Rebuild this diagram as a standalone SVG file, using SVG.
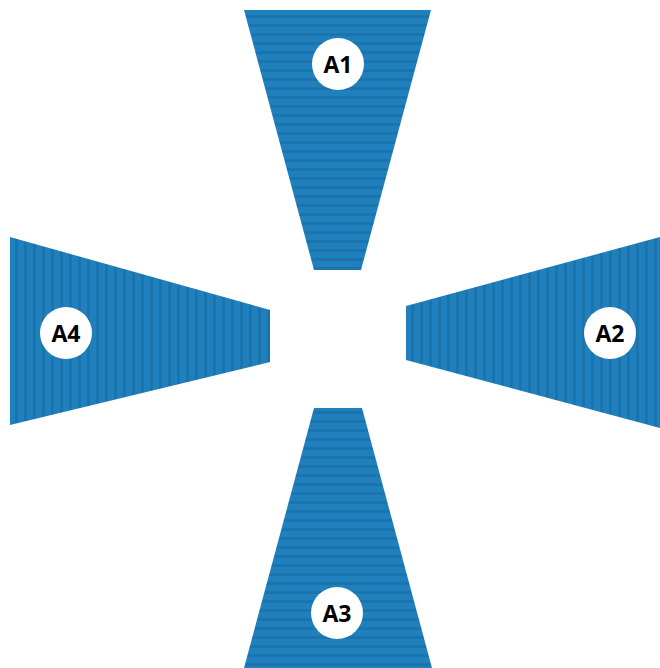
<svg xmlns="http://www.w3.org/2000/svg" width="660" height="668" viewBox="0 0 660 668">
<defs>
<pattern id="hs" width="10" height="9" patternUnits="userSpaceOnUse">
<rect width="10" height="9" fill="#1f80bd"/>
<rect y="6" width="10" height="3" fill="#1a70a8" opacity="0.8"/>
</pattern>
<pattern id="vs" width="9" height="10" patternUnits="userSpaceOnUse">
<rect width="9" height="10" fill="#1f80bd"/>
<rect x="6" width="3" height="10" fill="#1a70a8" opacity="0.8"/>
</pattern>
</defs>
<style>
.lbl{fill:#fff}
.t{font-family:"Open Sans","DejaVu Sans",sans-serif;font-weight:bold;font-size:23px;fill:#000;text-anchor:middle;dominant-baseline:central}
</style>
<rect width="660" height="668" fill="#fff"/>
<g id="A1">
<polygon points="244,10 431,10 361,270 314,270" fill="url(#hs)"/>
<circle class="lbl" cx="338" cy="64" r="26"/>
<text class="t" x="338" y="64">A1</text>
</g>
<g id="A2">
<polygon points="406,306 660,237 660,428 406,360" fill="url(#vs)"/>
<circle class="lbl" cx="610" cy="333" r="26"/>
<text class="t" x="610" y="333">A2</text>
</g>
<g id="A3">
<polygon points="314,408 362,408 432,668 244,668" fill="url(#hs)"/>
<circle class="lbl" cx="337" cy="613" r="26"/>
<text class="t" x="337" y="613">A3</text>
</g>
<g id="A4">
<polygon points="10,237 270,310 270,362 10,425" fill="url(#vs)"/>
<circle class="lbl" cx="66" cy="333" r="26"/>
<text class="t" x="66" y="333">A4</text>
</g>
<g id="connectors"/>
</svg>
